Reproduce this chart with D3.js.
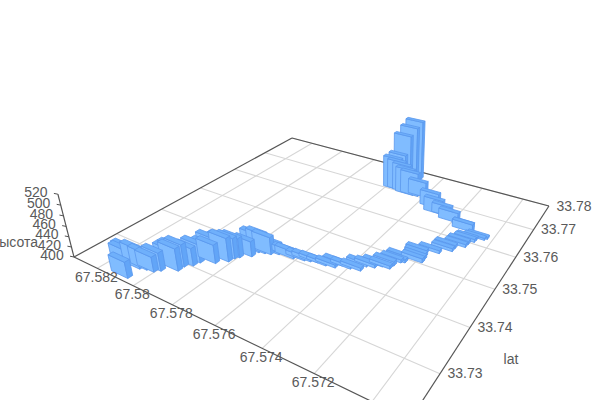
<!DOCTYPE html><html><head><meta charset="utf-8"><style>body{margin:0;background:#fff}text{font-family:"Liberation Sans",Arial,sans-serif;font-size:14px;fill:#5a5a5a}</style></head><body>
<script src="https://cdn.jsdelivr.net/npm/d3@7"></script>
<svg id="s" width="600" height="400"></svg>
<script>
const lonValues=[67.58097,67.58156,67.58171,67.58106,67.58078,67.58046,67.58028,67.58013,67.57974,67.57974,67.57950,67.57927,67.57907,67.57855,
67.57849,67.57837,67.57802,67.57797,67.57772,67.57748,67.57721,67.57675,67.57656,67.57612,67.57588,67.57560,67.57523,67.57486,
67.57470,67.57433,67.57394,67.57388,67.57358,67.57336,67.57306,67.57303,67.57289,67.57276,67.57279,67.57220,67.57222,67.57228,
67.57234,67.57190,67.57152,67.57151,67.57119,67.57117,67.57102,67.57101,67.57073,67.57065,67.57139,67.57149,67.57220,67.57267,
67.57305,67.57343,67.57436,67.57472,67.57496,67.57518,67.57548,67.57569,67.57583,67.57572,67.57557,67.57536,
67.58000,67.57890,67.57875,67.57942];
const latValues=[33.72294,33.72490,33.72581,33.72555,33.72595,33.72617,33.72694,33.72863,33.72838,33.72966,33.73062,33.73322,33.73374,33.73445,
33.73561,33.73626,33.73753,33.73905,33.73936,33.73966,33.74036,33.74087,33.74067,33.74117,33.74147,33.74184,33.74184,33.74216,
33.74322,33.74321,33.74360,33.74505,33.74550,33.74642,33.74654,33.74761,33.74896,33.74931,33.75024,33.75079,33.75174,33.75261,
33.75350,33.75466,33.75637,33.75749,33.75868,33.75983,33.76097,33.76176,33.76250,33.76308,33.76384,33.76480,33.76539,33.76669,
33.76657,33.76823,33.77095,33.77048,33.77032,33.77074,33.77096,33.77091,33.77418,33.77554,33.77703,33.77759,
33.72920,33.73300,33.73480,33.73182];
const altValues=[431,433,430,439,433,429,435,434,443,443,434,430,442,446,
440,438,430,436,438,434,420,412,414,408,408,406,406,406,
406,406,406,406,406,406,406,408,406,406,406,408,406,406,
406,406,406,406,406,406,406,404,404,404,415,409,420,420,
429,431,432,450,455,460,464,469,463,502,516,530,
438,436,440,436];
const lonTicks=[67.582,67.58,67.578,67.576,67.574,67.572];
const lonGrid=[67.582,67.58,67.578,67.576,67.574,67.572,67.57];
const latTicks=[33.73,33.74,33.75,33.76,33.77,33.78];
const altTicks=[400,420,440,460,480,500,520];
const axisNames={lat:"lat",alt:"высота"};

const lonDomain=[67.5834,67.5688],latDomain=[33.7217,33.78],altDomain=[400,520];
const U=d3.scaleLinear().domain(lonDomain).range([0,1]);
const V=d3.scaleLinear().domain(latDomain).range([0,1]);
const Z=d3.scaleLinear().domain(altDomain).range([0,1]);
// camera: floor homography plus vertical vanishing point
const cam={a:214.8,b:354.4,c:74,d:38.9,e:-54.5,f:257,g:-.2955,h:.4672,p:-.05,vx:380,vy:1450};
function proj(u,v,z){
  const w=1+cam.g*u+cam.h*v, pz=cam.p*z;
  const X=cam.a*u+cam.b*v+cam.c+pz*cam.vx, Y=cam.d*u+cam.e*v+cam.f+pz*cam.vy;
  return [X/(w+pz),Y/(w+pz)];
}
const svg=d3.select("#s");
const line=d3.line();
const du=.062,dv=.016;

// grid
const g=svg.append("g").attr("fill","none");
g.selectAll("path.glon").data(lonGrid).join("path").attr("class","glon").attr("stroke","#d6d6d6").attr("stroke-width",1.1).attr("d",t=>line([proj(U(t),0,0),proj(U(t),1,0)]));
g.selectAll("path.glat").data(latTicks).join("path").attr("class","glat").attr("stroke","#d6d6d6").attr("stroke-width",1.1).attr("d",t=>line([proj(0,V(t),0),proj(1,V(t),0)]));
// frame
const frame=[[[0,0,0],[1,0,0]],[[1,0,0],[1,1,0]],[[1,1,0],[0,1,0]],[[0,1,0],[0,0,0]],[[0,0,0],[0,0,1]]];
g.selectAll("path.frame").data(frame).join("path").attr("class","frame").attr("stroke","#555").attr("stroke-width",1.2)
 .attr("d",d=>line(d.map(p=>proj(...p))));
g.selectAll("path.ztick").data(altTicks).join("path").attr("class","ztick").attr("stroke","#555")
 .attr("d",t=>{const p=proj(0,0,Z(t));return line([p,[p[0]-4,p[1]-.8]]);});

// bars
const bars=lonValues.map((lon,i)=>({u:U(lon),v:V(latValues[i]),z:Z(altValues[i])}));
bars.sort((a,b)=>(1+cam.g*b.u+cam.h*b.v)-(1+cam.g*a.u+cam.h*a.v));
const faces=[
 {n:"front",c:"#80bcff",f:(b,u0,u1,v0,v1)=>[[u0,v0,0],[u1,v0,0],[u1,v0,b.z],[u0,v0,b.z]]},
 {n:"side",c:"#62a5f7",f:(b,u0,u1,v0,v1)=>[[u1,v0,0],[u1,v1,0],[u1,v1,b.z],[u1,v0,b.z]]},
 {n:"top",c:"#6fb0fb",f:(b,u0,u1,v0,v1)=>[[u0,v0,b.z],[u1,v0,b.z],[u1,v1,b.z],[u0,v1,b.z]]}
];
const bg=svg.append("g").selectAll("g").data(bars).join("g");
bg.selectAll("path").data(b=>faces.map(f=>({f,b}))).join("path")
 .attr("fill",d=>d.f.c).attr("stroke","#5a98ee").attr("stroke-width",.8).attr("stroke-linejoin","round")
 .attr("d",({f,b})=>line(f.f(b,b.u-du/2,b.u+du/2,b.v-dv/2,b.v+dv/2).map(p=>proj(...p)))+"Z");

// labels
const lab=svg.append("g");
lab.selectAll("text.lon").data(lonTicks).join("text").attr("class","lon").attr("text-anchor","middle").attr("dominant-baseline","middle")
 .attr("x",t=>proj(U(t),0,0)[0]-1).attr("y",t=>proj(U(t),0,0)[1]+9.5).text(t=>t);
lab.selectAll("text.lat").data(latTicks).join("text").attr("class","lat").attr("text-anchor","middle").attr("dominant-baseline","middle")
 .attr("x",t=>proj(1,V(t),0)[0]+25).attr("y",t=>proj(1,V(t),0)[1]+1).text(t=>t);
lab.selectAll("text.alt").data(altTicks).join("text").attr("class","alt").attr("text-anchor","middle").attr("dominant-baseline","middle")
 .attr("x",t=>proj(0,0,Z(t))[0]-22).attr("y",t=>proj(0,0,Z(t))[1]-1).text(t=>t);
lab.append("text").attr("x",511).attr("y",360).attr("text-anchor","middle").attr("dominant-baseline","middle").text(axisNames.lat);
lab.append("text").attr("x",38).attr("y",243).attr("text-anchor","end").attr("dominant-baseline","middle").text(axisNames.alt);
</script></body></html>
